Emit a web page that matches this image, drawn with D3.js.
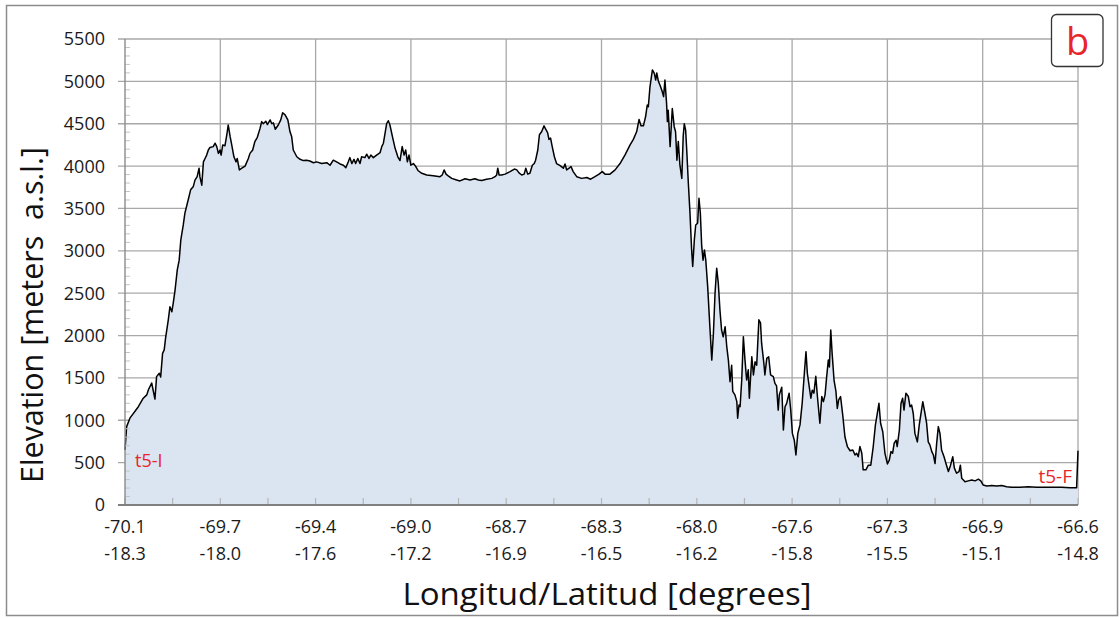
<!DOCTYPE html>
<html><head><meta charset="utf-8">
<script src="https://cdn.jsdelivr.net/npm/d3@7"></script>
<style>
body{margin:0;background:#fff}
svg{display:block}
text{font-family:"Open Sans",Lato,sans-serif}
</style>
</head><body>
<svg id="chart" width="1120" height="618"></svg>
<script>
// ---- data ----
const longitudes = [
-70.100,-70.094,-70.082,-70.051,-70.033,-70.020,-70.014,-70.002,-69.990,-69.984,
-69.974,-69.969,-69.962,-69.956,-69.951,-69.941,-69.935,-69.928,-69.923,-69.916,
-69.908,-69.901,-69.895,-69.886,-69.880,-69.868,-69.859,-69.849,-69.843,-69.835,
-69.828,-69.825,-69.818,-69.812,-69.806,-69.800,-69.794,-69.788,-69.776,-69.769,
-69.763,-69.757,-69.751,-69.747,-69.741,-69.733,-69.726,-69.721,-69.714,-69.708,
-69.700,-69.692,-69.688,-69.680,-69.671,-69.659,-69.647,-69.641,-69.631,-69.623,
-69.614,-69.604,-69.598,-69.592,-69.583,-69.577,-69.567,-69.561,-69.555,-69.548,
-69.537,-69.528,-69.521,-69.512,-69.502,-69.494,-69.488,-69.482,-69.469,-69.457,
-69.445,-69.433,-69.421,-69.408,-69.396,-69.378,-69.359,-69.347,-69.335,-69.323,
-69.310,-69.298,-69.289,-69.280,-69.274,-69.267,-69.259,-69.253,-69.245,-69.237,
-69.231,-69.219,-69.212,-69.204,-69.197,-69.188,-69.176,-69.163,-69.157,-69.151,
-69.145,-69.139,-69.133,-69.127,-69.118,-69.108,-69.098,-69.090,-69.082,-69.075,
-69.069,-69.063,-69.057,-69.050,-69.041,-69.032,-69.023,-69.010,-68.992,-68.968,
-68.943,-68.935,-68.928,-68.921,-68.913,-68.900,-68.882,-68.870,-68.851,-68.833,
-68.815,-68.802,-68.790,-68.772,-68.753,-68.741,-68.735,-68.731,-68.726,-68.717,
-68.704,-68.686,-68.670,-68.661,-68.653,-68.643,-68.634,-68.628,-68.621,-68.613,
-68.604,-68.597,-68.592,-68.584,-68.578,-68.570,-68.561,-68.555,-68.548,-68.543,
-68.537,-68.531,-68.523,-68.515,-68.502,-68.490,-68.484,-68.478,-68.469,-68.462,
-68.454,-68.441,-68.423,-68.404,-68.390,-68.374,-68.359,-68.347,-68.337,-68.319,
-68.300,-68.282,-68.264,-68.245,-68.233,-68.221,-68.212,-68.205,-68.196,-68.188,
-68.182,-68.178,-68.172,-68.163,-68.156,-68.151,-68.147,-68.141,-68.135,-68.127,
-68.122,-68.117,-68.111,-68.108,-68.105,-68.098,-68.090,-68.083,-68.078,-68.073,
-68.068,-68.062,-68.055,-68.050,-68.046,-68.041,-68.037,-68.031,-68.025,-68.019,
-68.015,-68.009,-68.004,-67.997,-67.992,-67.987,-67.982,-67.977,-67.972,-67.967,
-67.960,-67.952,-67.945,-67.939,-67.933,-67.927,-67.921,-67.915,-67.909,-67.903,
-67.896,-67.890,-67.884,-67.878,-67.872,-67.868,-67.860,-67.853,-67.850,-67.845,
-67.841,-67.835,-67.829,-67.823,-67.817,-67.811,-67.807,-67.798,-67.792,-67.786,
-67.780,-67.772,-67.766,-67.762,-67.753,-67.750,-67.743,-67.736,-67.729,-67.719,
-67.713,-67.707,-67.701,-67.697,-67.688,-67.682,-67.676,-67.670,-67.661,-67.655,
-67.649,-67.642,-67.636,-67.629,-67.621,-67.613,-67.605,-67.599,-67.594,-67.587,
-67.581,-67.576,-67.570,-67.563,-67.557,-67.548,-67.541,-67.535,-67.529,-67.523,
-67.517,-67.513,-67.508,-67.503,-67.496,-67.489,-67.484,-67.479,-67.472,-67.464,
-67.456,-67.447,-67.437,-67.427,-67.419,-67.413,-67.407,-67.401,-67.394,-67.389,
-67.379,-67.370,-67.361,-67.352,-67.344,-67.337,-67.331,-67.325,-67.317,-67.309,
-67.300,-67.293,-67.287,-67.281,-67.275,-67.268,-67.264,-67.256,-67.250,-67.244,
-67.239,-67.232,-67.223,-67.217,-67.211,-67.205,-67.199,-67.190,-67.183,-67.170,
-67.162,-67.156,-67.150,-67.144,-67.137,-67.131,-67.125,-67.119,-67.113,-67.107,
-67.101,-67.092,-67.085,-67.076,-67.068,-67.060,-67.054,-67.046,-67.037,-67.032,
-67.027,-67.015,-67.003,-66.990,-66.978,-66.966,-66.957,-66.948,-66.935,-66.917,
-66.899,-66.880,-66.862,-66.844,-66.813,-66.783,-66.752,-66.721,-66.691,-66.660,
-66.629,-66.605,-66.600
];
const elevations = [
650,925,1025,1160,1260,1300,1360,1440,1250,1515,
1555,1510,1790,1830,1970,2185,2340,2280,2380,2540,
2775,2890,3130,3305,3445,3600,3720,3760,3835,3875,
3975,3875,3775,4050,4090,4130,4190,4220,4230,4270,
4230,4150,4190,4130,4250,4240,4370,4485,4350,4250,
4110,4050,4090,3955,3975,4000,4090,4150,4190,4290,
4340,4445,4525,4500,4530,4490,4545,4500,4510,4435,
4485,4545,4630,4605,4545,4405,4350,4190,4110,4080,
4065,4070,4060,4040,4050,4030,4040,4010,4070,4050,
4025,4010,3980,4050,4100,4030,4080,4030,4090,4030,
4110,4100,4140,4090,4130,4100,4130,4160,4230,4270,
4385,4500,4535,4485,4350,4210,4110,4065,4230,4130,
4190,4050,4130,4010,4030,3995,3945,3915,3895,3885,
3875,3895,3955,3905,3885,3855,3835,3825,3850,3835,
3850,3835,3830,3845,3855,3875,3895,3975,3895,3895,
3905,3935,3965,3955,3920,3895,3905,3975,3905,3915,
4010,4030,4070,4190,4370,4405,4475,4435,4395,4315,
4330,4230,4110,4030,4005,3975,4025,3955,3975,3995,
3935,3875,3855,3865,3845,3875,3905,3935,3905,3905,
3955,4030,4130,4250,4315,4405,4550,4475,4475,4585,
4720,4700,4935,5135,5095,5015,5100,5000,4955,4880,
4820,5015,4740,4525,4660,4230,4680,4465,4405,4070,
4290,4010,3855,4350,4500,4425,4190,3795,3445,3010,
2815,3130,3305,3325,3620,3445,3055,2890,3010,2890,
2575,2105,1710,2025,2500,2795,2615,2300,2065,1985,
2105,1870,1710,1455,1650,1340,1300,1220,1025,1180,
1160,1475,1985,1710,1475,1595,1260,1750,1535,1690,
1650,2185,2150,1910,1650,1535,1730,1750,1535,1515,
1435,1405,1120,1300,1390,885,1160,1200,1320,1120,
845,765,590,845,945,1200,1555,1810,1555,1395,
1260,1355,1320,1520,1280,965,1280,1220,1300,1515,
1710,1630,2065,1790,1475,1340,1140,1240,1280,1060,
805,690,640,650,590,610,570,690,610,415,
415,470,470,690,945,1080,1200,965,865,610,
485,530,630,610,730,765,690,885,1200,1260,
1120,1320,1280,1160,1180,1080,845,745,945,1220,
1080,965,745,710,630,590,490,730,925,845,
650,570,490,395,470,570,435,375,395,470,
315,275,285,295,285,305,285,235,225,230,
225,230,215,210,210,215,210,210,210,210,
205,205,640
];
const elevTicks = [0,500,1000,1500,2000,2500,3000,3500,4000,4500,5000,5500];
const lonTickValues = [-70.1,-69.75,-69.4,-69.05,-68.7,-68.35,-68.0,-67.65,-67.3,-66.95,-66.6];
const lonLabels = ["-70.1","-69.7","-69.4","-69.0","-68.7","-68.3","-68.0","-67.6","-67.3","-66.9","-66.6"];
const latLabels = ["-18.3","-18.0","-17.6","-17.2","-16.9","-16.5","-16.2","-15.8","-15.5","-15.1","-14.8"];

// ---- layout ----
const svg = d3.select("#chart");
const L = 125, R = 1078, T = 39, B = 505;
const x = d3.scaleLinear().domain([-70.1, -66.6]).range([L, R]);
const y = d3.scaleLinear().domain([0, 5500]).range([B, T]);
const data = longitudes.map((v, i) => ({lon: v, elev: elevations[i]}));

// outer border
svg.append("rect").attr("x", 6.5).attr("y", 5.5).attr("width", 1111).attr("height", 610)
  .attr("fill", "#fff").attr("stroke", "#8c8c8c").attr("stroke-width", 1.5);

// grid
const grid = svg.append("g");
grid.selectAll(".hg").data(elevTicks.filter(d => d > 0)).enter().append("line")
  .attr("x1", L - 7).attr("x2", R).attr("y1", d => y(d)).attr("y2", d => y(d))
  .attr("stroke", "#a8a8a8").attr("stroke-width", 1.3);
grid.selectAll(".vg").data(lonTickValues.slice(1)).enter().append("line")
  .attr("x1", d => x(d)).attr("x2", d => x(d)).attr("y1", y(5500)).attr("y2", B)
  .attr("stroke", "#a8a8a8").attr("stroke-width", 1.3);

// area + line
svg.append("path").datum(data)
  .attr("d", d3.area().x(d => x(d.lon)).y0(y(0)).y1(d => y(d.elev)))
  .attr("fill", "#dbe5f1");
svg.append("path").datum(data)
  .attr("d", d3.line().x(d => x(d.lon)).y(d => y(d.elev)))
  .attr("fill", "none").attr("stroke", "#000").attr("stroke-width", 1.5)
  .attr("stroke-linejoin", "round");

// y minor ticks
const yMinor = d3.range(100, 5500, 100).filter(d => d % 500 !== 0);
svg.selectAll(".ym").data(yMinor).enter().append("line")
  .attr("x1", L).attr("x2", L + 5).attr("y1", d => y(d)).attr("y2", d => y(d))
  .attr("stroke", "#c4c4c4").attr("stroke-width", 1);
// x minor ticks
const xMinor = d3.range(0, 21).map(i => -70.1 + i * 0.175);
svg.selectAll(".xm").data(xMinor).enter().append("line")
  .attr("x1", d => x(d)).attr("x2", d => x(d)).attr("y1", B).attr("y2", B - 7)
  .attr("stroke", "#b4b4b4").attr("stroke-width", 1.2);

// axis lines
svg.append("line").attr("x1", L).attr("x2", L).attr("y1", T).attr("y2", B)
  .attr("stroke", "#8a8a8a").attr("stroke-width", 1.4);
svg.append("line").attr("x1", L - 7).attr("x2", R).attr("y1", B).attr("y2", B)
  .attr("stroke", "#7f7f7f").attr("stroke-width", 2);

// y tick labels
svg.selectAll(".yl").data(elevTicks).enter().append("text")
  .attr("x", 105).attr("y", d => y(d)).attr("dy", "0.36em")
  .attr("text-anchor", "end").attr("font-size", 18).attr("fill", "#1a1a1a")
  .text(d => d);

// x tick labels (two rows)
svg.selectAll(".xl1").data(lonTickValues).enter().append("text")
  .attr("x", d => x(d)).attr("y", 533).attr("text-anchor", "middle")
  .attr("font-size", 18).attr("fill", "#1a1a1a").text((d, i) => lonLabels[i]);
svg.selectAll(".xl2").data(lonTickValues).enter().append("text")
  .attr("x", d => x(d)).attr("y", 560).attr("text-anchor", "middle")
  .attr("font-size", 18).attr("fill", "#1a1a1a").text((d, i) => latLabels[i]);

// axis titles
svg.append("text").attr("transform", "translate(43,315) rotate(-90)")
  .attr("text-anchor", "middle").attr("font-size", 31).attr("fill", "#111")
  .style("white-space", "pre")
  .attr("textLength", 336).attr("lengthAdjust", "spacingAndGlyphs")
  .text("Elevation [meters  a.s.l.]");
svg.append("text").attr("x", 607).attr("y", 605)
  .attr("text-anchor", "middle").attr("font-size", 31).attr("fill", "#111")
  .attr("textLength", 409).attr("lengthAdjust", "spacingAndGlyphs")
  .text("Longitud/Latitud [degrees]");

// annotations
svg.append("text").attr("x", 135).attr("y", 467).attr("font-size", 18)
  .attr("fill", "#e8262a").text("t5-I");
svg.append("text").attr("x", 1072).attr("y", 483).attr("text-anchor", "end")
  .attr("font-size", 19).attr("fill", "#e8262a").text("t5-F");

// panel letter
svg.append("rect").attr("x", 1051.5).attr("y", 14.5).attr("width", 51.5).attr("height", 52)
  .attr("rx", 5).attr("fill", "#fff").attr("stroke", "#333").attr("stroke-width", 1.3);
svg.append("text").attr("x", 1077.5).attr("y", 55).attr("text-anchor", "middle")
  .attr("font-size", 38).attr("fill", "#e8262a").text("b");
</script>
</body></html>
